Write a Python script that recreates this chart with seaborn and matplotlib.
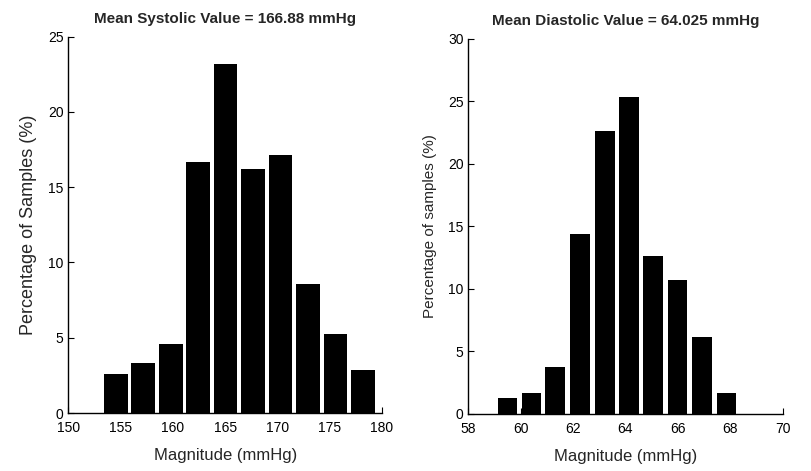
import matplotlib
matplotlib.use("Agg")
import matplotlib.pyplot as plt
import seaborn as sns
import pandas as pd

# Systolic histogram (bin centres in mmHg, percentage of samples)
sys_centres = [154.55, 157.17, 159.80, 162.42, 165.05, 167.67, 170.30, 172.92, 175.55, 178.17]
sys_percent = [2.59, 3.30, 4.56, 16.68, 23.16, 16.24, 17.12, 8.58, 5.27, 2.88]
sys_title = "Mean Systolic Value = 166.88 mmHg"
sys_ylabel = "Percentage of Samples (%)"
sys_xticks = [150, 155, 160, 165, 170, 175, 180]
sys_yticks = [0, 5, 10, 15, 20, 25]

# Diastolic histogram
dia_centres = [59.49, 60.41, 61.32, 62.26, 63.21, 64.14, 65.06, 65.98, 66.91, 67.86]
dia_percent = [1.28, 1.65, 3.70, 14.39, 22.63, 25.37, 12.63, 10.72, 6.14, 1.68]
dia_title = "Mean Diastolic Value = 64.025 mmHg"
dia_ylabel = "Percentage of samples (%)"
dia_xticks = [58, 60, 62, 64, 66, 68, 70]
dia_yticks = [0, 5, 10, 15, 20, 25, 30]

xlabel = "Magnitude (mmHg)"

sns.set_style("ticks")
plt.rcParams['font.family'] = ['Liberation Sans', 'DejaVu Sans']

fig = plt.figure(figsize=(8.11, 4.71), dpi=100)
ax1 = fig.add_axes([0.0842, 0.1231, 0.3868, 0.799])
ax2 = fig.add_axes([0.5774, 0.1217, 0.3877, 0.7955])

def draw(ax, centres, percent, title, ylabel, xticks, yticks, width, ylsize):
    df = pd.DataFrame({"x": centres, "y": percent})
    sns.barplot(data=df, x="x", y="y", native_scale=True, width=width,
                color="black", edgecolor="none", linewidth=0, ax=ax,
                saturation=1, errorbar=None)
    ax.set_xlim(xticks[0], xticks[-1])
    ax.set_ylim(yticks[0], yticks[-1])
    ax.set_xticks(xticks)
    ax.set_yticks(yticks)
    ax.set_title(title, fontsize=11, fontweight="bold", pad=10)
    ax.set_xlabel(xlabel, fontsize=12, labelpad=9)
    ax.set_ylabel(ylabel, fontsize=ylsize, labelpad=8)
    ax.tick_params(direction="in", length=4, width=0.8, labelsize=10, colors="black")
    ax.tick_params(axis="x", pad=6)
    for s in ["top", "right"]:
        ax.spines[s].set_visible(False)
    for s in ["left", "bottom"]:
        ax.spines[s].set_color("black")
        ax.spines[s].set_linewidth(1.0)

draw(ax1, sys_centres, sys_percent, sys_title, sys_ylabel, sys_xticks, sys_yticks, 0.86, 13)
draw(ax2, dia_centres, dia_percent, dia_title, dia_ylabel, dia_xticks, dia_yticks, 0.82, 11)

fig.savefig("out.png", dpi=100)
